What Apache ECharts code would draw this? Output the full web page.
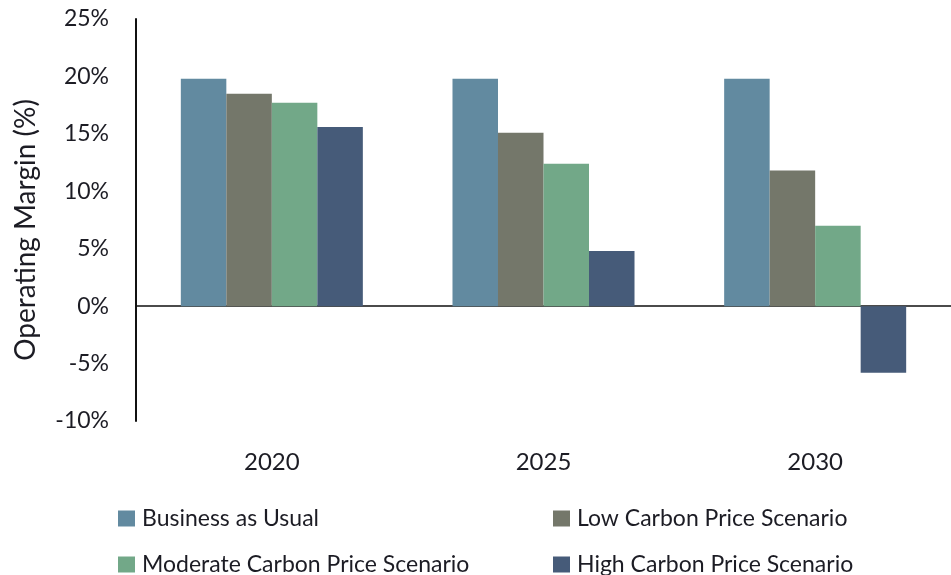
<!DOCTYPE html>
<html>
<head>
<meta charset="utf-8">
<script src="https://cdn.jsdelivr.net/npm/echarts@6/dist/echarts.min.js"></script>
<style>
html, body { margin: 0; padding: 0; background: #fff; }
#chart { width: 951px; height: 575px; }
</style>
</head>
<body>
<div id="chart"></div>
<script>
// 数据
const years = ["2020", "2025", "2030"];
const seriesNames = ["Business as Usual", "Low Carbon Price Scenario", "Moderate Carbon Price Scenario", "High Carbon Price Scenario"];
const businessAsUsual = [19.8, 19.8, 19.8];
const lowCarbon = [18.5, 15.1, 11.8];
const moderateCarbon = [17.7, 12.4, 7.0];
const highCarbon = [15.6, 4.8, -5.8];
const colors = ["#628aa0", "#74776a", "#72a888", "#465b79"];

const font = "Lato";
const textColor = "#1c1c24";
const seriesData = [businessAsUsual, lowCarbon, moderateCarbon, highCarbon];
// 图例位置 (两行两列)
const legendPos = [[118, 507], [553, 507], [118, 553], [553, 553]];

const chart = echarts.init(document.getElementById("chart"));
chart.setOption({
    animation: false,
    color: colors,
    grid: { left: 136, top: 19, width: 830, height: 402 },
    legend: seriesNames.map((name, i) => ({
        left: legendPos[i][0],
        top: legendPos[i][1],
        padding: 0,
        itemWidth: 17,
        itemHeight: 16,
        itemGap: 0,
        icon: "rect",
        data: [name],
        textStyle: { fontFamily: font, fontSize: 23, color: textColor, padding: [0, 0, 0, 2] }
    })),
    xAxis: [
        {
            type: "category",
            data: years,
            axisLine: { onZero: true, lineStyle: { color: "#111", width: 1.5 } },
            axisTick: { show: false },
            axisLabel: { show: false }
        },
        {
            type: "category",
            data: years,
            position: "bottom",
            axisLine: { show: false, onZero: false },
            axisTick: { show: false },
            axisLabel: { fontFamily: font, fontSize: 24, color: textColor, margin: 29 }
        }
    ],
    yAxis: {
        type: "value",
        min: -10,
        max: 25,
        interval: 5,
        name: "Operating Margin (%)",
        nameLocation: "middle",
        nameGap: 96,
        nameTextStyle: { fontFamily: font, fontSize: 28, color: textColor, padding: [0, 20, 0, 0] },
        axisLine: { show: true, lineStyle: { color: "#111", width: 2 } },
        axisTick: { show: false },
        splitLine: { show: false },
        axisLabel: { fontFamily: font, fontSize: 23, color: textColor, margin: 27, formatter: "{value}%" }
    },
    series: seriesNames.map((name, i) => ({
        name: name,
        type: "bar",
        xAxisIndex: 0,
        data: seriesData[i],
        barGap: "0%",
        barCategoryGap: "33%"
    }))
});
</script>
</body>
</html>
